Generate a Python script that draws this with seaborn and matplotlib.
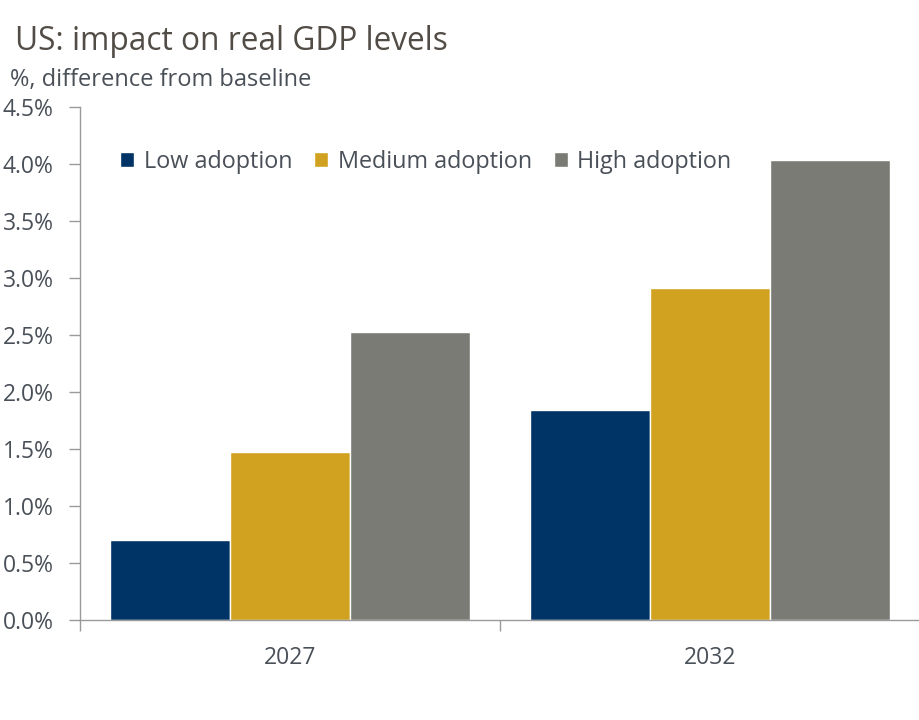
import matplotlib.pyplot as plt
import pandas as pd
import seaborn as sns
from matplotlib.patches import Patch
from matplotlib.ticker import FuncFormatter, FixedLocator

years = ["2027", "2032"]
scenarios = ["Low adoption", "Medium adoption", "High adoption"]
low = [0.70, 1.84]
medium = [1.47, 2.91]
high = [2.53, 4.04]
colors = ["#003366", "#D1A220", "#7B7B75"]

df = pd.DataFrame({
    "year": years * 3,
    "scenario": [s for s in scenarios for _ in years],
    "value": low + medium + high,
})

sns.set_theme(style="white")
plt.rcParams["font.family"] = ["Open Sans", "DejaVu Sans"]

fig = plt.figure(figsize=(9.2, 7.2), dpi=100)
ax = fig.add_axes([0.087, 0.139, 0.913, 0.712])

sns.barplot(data=df, x="year", y="value", hue="scenario", palette=colors,
            width=0.857, saturation=1, ax=ax, legend=False)

ax.set_ylim(0, 4.5)
ax.set_xlim(-0.5, 1.5)
ax.set_yticks([i * 0.5 for i in range(10)])
ax.yaxis.set_major_formatter(FuncFormatter(lambda v, p: f"{v:.1f}%"))
ax.xaxis.set_minor_locator(FixedLocator([-0.5, 0.5, 1.5]))
ax.tick_params(axis="x", which="major", length=0, pad=19, labelsize=16.5, colors="#4A5058")
ax.tick_params(axis="x", which="minor", length=8, width=1, color="#9A9A9A", direction="out", bottom=True)
ax.tick_params(axis="y", length=8, width=1, color="#9A9A9A", direction="out", left=True,
               labelsize=16.5, labelcolor="#4A5058", pad=11)
ax.set_xlabel("")
ax.set_ylabel("")
for s in ["top", "right"]:
    ax.spines[s].set_visible(False)
for s in ["left", "bottom"]:
    ax.spines[s].set_color("#9A9A9A")
    ax.spines[s].set_linewidth(1)

handles = [Patch(facecolor=c, label=s) for c, s in zip(colors, scenarios)]
ax.legend(handles=handles, loc="upper left", bbox_to_anchor=(0.037, 0.935), ncol=3,
          frameon=False, fontsize=16.8, handlelength=0.6, handleheight=0.6,
          handletextpad=0.4, columnspacing=0.95, labelcolor="#4A5058",
          borderaxespad=0)

fig.text(0.016, 0.943, "US: impact on real GDP levels", fontsize=22.8, color="#524C46", va="center")
fig.text(0.011, 0.889, "%, difference from baseline", fontsize=17, color="#4A5058", va="center")

plt.savefig("out.png", dpi=100)
